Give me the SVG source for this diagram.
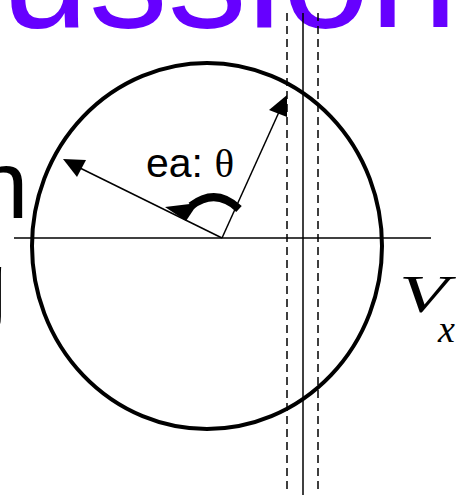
<svg xmlns="http://www.w3.org/2000/svg" width="469" height="497" viewBox="0 0 469 497">
<style>
.ln{stroke:#000;stroke-width:1.5;fill:none}
.dash{stroke:#000;stroke-width:1.5;fill:none;stroke-dasharray:8 5}
.sans{font-family:"Liberation Sans",Arial,sans-serif}
.serif{font-family:"Liberation Serif","Times New Roman",serif}
</style>
<rect width="469" height="497" fill="#fff"/>
<g id="title"><text class="sans" x="1" y="27" font-size="158" fill="#6600ff">ussion</text></g>
<g id="side-text">
<text class="sans" x="-25" y="218" font-size="96" fill="#000">n</text>
<text class="sans" x="-46" y="318" font-size="96" fill="#000">g</text>
</g>
<g id="circle"><ellipse cx="207" cy="246" rx="175" ry="183" fill="none" stroke="#000" stroke-width="4"/></g>
<g id="connectors">
<line class="ln" x1="14" y1="238" x2="431" y2="238"/>
<line class="dash" x1="287" y1="13" x2="287" y2="493"/>
<line class="ln" x1="303" y1="13" x2="303" y2="495"/>
<line class="dash" x1="318" y1="13" x2="318" y2="493"/>
<line class="ln" x1="222" y1="238" x2="80" y2="168"/>
<polygon points="63,159 86,160 77,177" fill="#000"/>
<line class="ln" x1="222" y1="238" x2="279" y2="112"/>
<polygon points="287,95 287,117 269,110" fill="#000"/>
<path d="M239,209 Q216,187 191,206" fill="none" stroke="#000" stroke-width="8"/>
<polygon points="165,207 198,203 186,221" fill="#000"/>
</g>
<g id="labels">
<text class="sans" x="146" y="177" font-size="41">ea: <tspan class="serif">θ</tspan></text>
<text class="serif" font-style="italic" font-size="52" transform="translate(399,312) scale(1.55,1)">V</text>
<text class="serif" font-style="italic" font-size="38" x="438" y="342">x</text>
</g>
</svg>
